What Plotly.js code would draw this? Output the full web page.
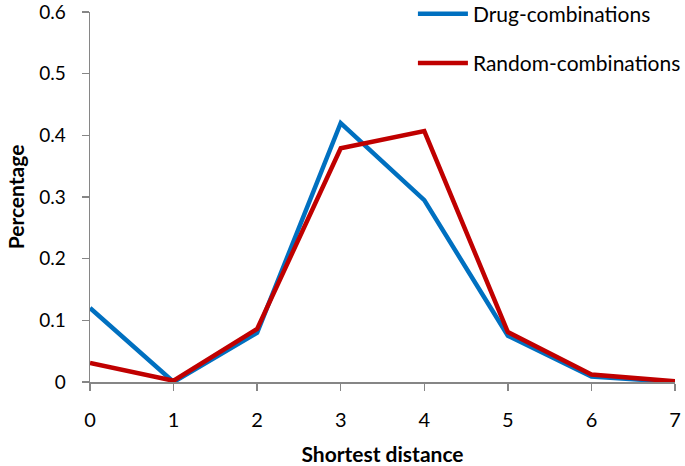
<!DOCTYPE html>
<html>
<head>
<meta charset="utf-8">
<script src="https://cdn.plot.ly/plotly-3.0.1.min.js"></script>
<style>html,body{margin:0;padding:0;background:#fff;}#chart{width:685px;height:466px;}</style>
</head>
<body>
<div id="chart"></div>
<script>
var distances = [0, 1, 2, 3, 4, 5, 6, 7];
var drugCombinations = [0.12, 0.0, 0.08, 0.42, 0.295, 0.075, 0.009, 0.0];
var randomCombinations = [0.031, 0.002, 0.086, 0.379, 0.407, 0.081, 0.012, 0.001];
var yTicks = [0, 0.1, 0.2, 0.3, 0.4, 0.5, 0.6];
var yTickText = ['0', '0.1', '0.2', '0.3', '0.4', '0.5', '0.6'];

var font = 'Lato, "Open Sans", sans-serif';
var traces = [
  {x: distances, y: drugCombinations, type: 'scatter', mode: 'lines', name: 'Drug-combinations',
   legendgroup: 'a', line: {color: '#0070C0', width: 4.5}},
  {x: distances, y: randomCombinations, type: 'scatter', mode: 'lines', name: 'Random-combinations',
   legendgroup: 'b', line: {color: '#C00000', width: 4.5}}
];
var layout = {
  width: 685, height: 466,
  margin: {l: 90, r: 10, t: 12, b: 84, autoexpand: false},
  paper_bgcolor: '#fff', plot_bgcolor: '#fff',
  font: {family: font, size: 20, color: '#000'},
  showlegend: true,
  legend: {x: 0.552, y: 1.05, xanchor: 'left', yanchor: 'top', tracegroupgap: 19,
           font: {family: font, size: 21}, bgcolor: 'rgba(0,0,0,0)', itemwidth: 50},
  xaxis: {range: [0, 7], tickvals: distances, ticktext: distances.map(String),
          showgrid: false, zeroline: false, showline: true, linecolor: '#868686', linewidth: 1.5,
          ticks: 'outside', ticklen: 7, tickcolor: '#868686', tickwidth: 1.5,
          tickfont: {family: font, size: 20}, automargin: false, ticklabelstandoff: 12,
          ticklabeloverflow: 'allow',
          title: {text: '<b>Shortest distance</b>', font: {family: font, size: 21}, standoff: 23}},
  yaxis: {range: [0, 0.6], tickvals: yTicks, ticktext: yTickText,
          showgrid: false, zeroline: false, showline: true, linecolor: '#868686', linewidth: 1.5,
          ticks: 'outside', ticklen: 7, tickcolor: '#868686', tickwidth: 1.5,
          tickfont: {family: font, size: 19}, automargin: false, ticklabelstandoff: 12,
          ticklabeloverflow: 'allow',
          title: {text: '<b>Percentage</b>', font: {family: font, size: 21}, standoff: 9}}
};
Plotly.newPlot('chart', traces, layout, {displayModeBar: false, staticPlot: true});
</script>
</body>
</html>
